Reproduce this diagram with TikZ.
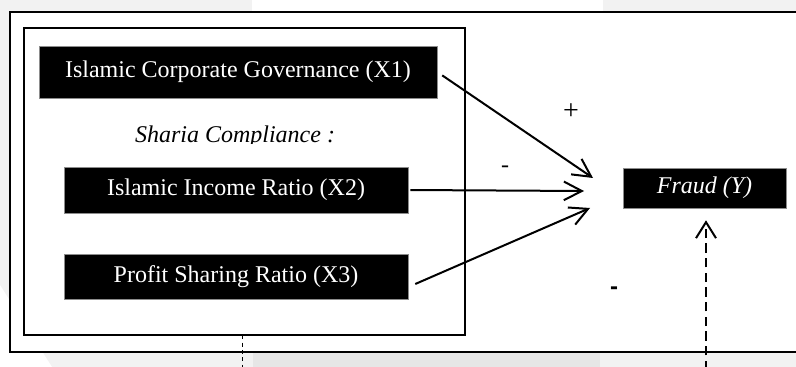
\documentclass[tikz,border=0pt]{standalone}
\usepackage{fontspec}
\setmainfont{Liberation Serif}
\newfontfamily\labelsans{Liberation Sans}
\usetikzlibrary{arrows.meta,calc}

\definecolor{paperA}{HTML}{F2F2F2}
\definecolor{paperB}{HTML}{E6E6E6}
\definecolor{edgegray}{HTML}{8C8C8C}

% one drawing unit is 0.75pt
\tikzset{
  varbox/.style={draw=edgegray, line width=0.4pt, fill=black, text=white,
    inner sep=0pt, font=\fontsize{18}{20}\selectfont},
  frame/.style={draw=black, line width=1.5pt},
  effect/.style={line width=1.5pt, -{Straight Barb[length=13.5pt,width=14pt,line width=1.5pt]}},
  moderate/.style={line width=1.5pt, dash pattern=on 7pt off 4pt,
    -{Straight Barb[length=12pt,width=15pt,line width=1.5pt]}},
  thindash/.style={line width=0.7pt, dash pattern=on 3pt off 2.5pt},
  sign/.style={font=\fontsize{18}{20}\selectfont, inner sep=0pt},
}

\begin{document}
\begin{tikzpicture}[x=0.75pt,y=-0.75pt]
\useasboundingbox (0,0) rectangle (796,367);
\clip (0,0) rectangle (796,367);

% page background
\fill[paperA] (0,0) rectangle (796,367);
\fill[white] (252,0) rectangle (603,12);
\fill[paperB] (253,352) rectangle (600,367);
\fill[white] (0,285) -- (0,367) -- (52,367) -- cycle;

% outer and inner frames
\draw[frame, fill=white] (10,12) rectangle (805,352);
\draw[frame] (24,28) rectangle (465,335);

% variables
\node[varbox, minimum width=298.5pt, minimum height=39pt] (X1) at (238,72)
  {Islamic Corporate Governance (X1)};
\node[varbox, minimum width=258pt, minimum height=34.5pt] (X2) at (236,190)
  {Islamic Income Ratio (X2)};
\node[varbox, minimum width=258pt, minimum height=33.75pt] (X3) at (236,276.5)
  {Profit Sharing Ratio (X3)};
\node[varbox, minimum width=122.25pt, minimum height=30pt] (F) at (704.5,188)
  {\itshape Fraud (Y)};

% group heading, cut at its baseline
\begin{scope}
  \clip (100,120) rectangle (380,143.5);
  \node[sign, anchor=base, font=\fontsize{18}{20}\selectfont\itshape] (SC) at (235,143)
    {Sharia Compliance :};
\end{scope}

% arrow tips
\coordinate (t1) at (593,178);
\coordinate (t2) at (584,191);
\coordinate (t3) at (590,208);

\draw[effect, shorten <=4.5pt] (X1.east) -- (t1);
\draw[effect, shorten <=1.5pt] (X2.east) -- (t2);
\draw[effect] ($(X3.east)+(7,7.5)$) -- (t3);

% moderating paths
\coordinate (m0) at (706,370);
\draw[moderate] (m0) -- ($(F.south)+(1.5,12)$);
\coordinate (g0) at (242,370);
\draw[thindash] ($(X3.south)+(6,36)$) -- (g0);

% signs
\node[sign, font=\fontsize{21}{23}\selectfont] (p1) at (571,112) {+};
\node[sign] (n1) at (505,169) {-};
\node[sign, font=\fontsize{18}{20}\selectfont\labelsans\bfseries] (n2) at (614,291) {-};
\end{tikzpicture}
\end{document}
